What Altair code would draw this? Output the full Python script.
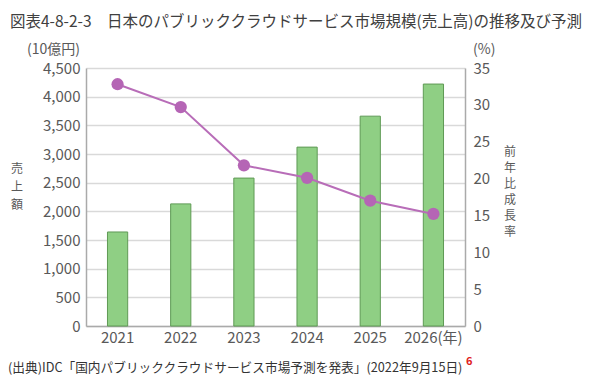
import altair as alt
import pandas as pd

years = ["2021", "2022", "2023", "2024", "2025", "2026"]
sales = [1640, 2130, 2580, 3120, 3660, 4220]
growth = [32.8, 29.7, 21.8, 20.1, 17.0, 15.2]

title_text = "図表4-8-2-3　日本のパブリッククラウドサービス市場規模(売上高)の推移及び予測"
left_unit = "(10億円)"
right_unit = "(%)"
left_title = "売上額"
right_title = "前年比成長率"
source_text = "(出典)IDC「国内パブリッククラウドサービス市場予測を発表」(2022年9月15日)"
note_mark = "6"

FONT = "Noto Sans CJK JP"
GRAY = "#595959"

df = pd.DataFrame({"year": years, "sales": sales, "growth": growth})

x_enc = alt.X("year:N", title=None, sort=years,
              scale=alt.Scale(paddingInner=0.68, paddingOuter=0.34),
              axis=alt.Axis(labelAngle=0, labelFont=FONT, labelFontSize=15, labelColor=GRAY,
                            labelPadding=4, ticks=False, domainColor="#aaaaaa", domainWidth=1.5,
                            labelExpr="datum.value == '2026' ? '2026(年)' : datum.value"))

bars = alt.Chart(df).mark_bar(color="#8fcf84", stroke="#5f9a55", strokeWidth=1).encode(
    x=x_enc,
    y=alt.Y("sales:Q", title=None,
            scale=alt.Scale(domain=[0, 4500]),
            axis=alt.Axis(values=list(range(0, 4501, 500)), format=",d", labelFont=FONT,
                          labelFontSize=15, labelColor=GRAY, ticks=False, labelPadding=6,
                          gridColor="#d9d9d9", gridWidth=1.5, domainColor="#aaaaaa",
                          domainWidth=1.5)),
)

line = alt.Chart(df).mark_line(color="#b86db8", strokeWidth=2,
                               point=alt.OverlayMarkDef(color="#b565b5", size=150, filled=True, opacity=1)).encode(
    x=alt.X("year:N", sort=years),
    y=alt.Y("growth:Q", title=None,
            scale=alt.Scale(domain=[0, 35]),
            axis=alt.Axis(orient="right", values=list(range(0, 36, 5)), labelFont=FONT,
                          labelFontSize=15, labelColor=GRAY, ticks=False, labelPadding=8,
                          grid=False, domainColor="#aaaaaa", domainWidth=1.5)),
)

def txt(s, x, y, size=14, align="left", color=GRAY, lh=None, baseline="middle", weight="normal"):
    kw = dict(font=FONT, fontSize=size, align=align, baseline=baseline, color=color, fontWeight=weight)
    if lh is not None:
        kw["lineBreak"] = "\n"
        kw["lineHeight"] = lh
    return alt.Chart(pd.DataFrame({"t": [s]})).mark_text(**kw).encode(
        text="t:N", x=alt.value(x), y=alt.value(y))

layers = [
    bars, line,
    txt(title_text, -76, -46, size=15.5, color="#404040"),
    txt(left_unit, -6, -18, size=14, align="right"),
    txt(right_unit, 387, -18, size=14),
    txt("\n".join(left_title), -69, 101, size=12, align="center", lh=18),
    txt("\n".join(right_title), 424, 84, size=12, align="center", lh=16),
    txt(source_text, -78, 300, size=12.7, color="#333333"),
    txt(note_mark, 380, 294, size=11, color="#e0201b", weight="bold"),
]

chart = alt.layer(*layers).resolve_scale(y="independent").properties(
    width=379, height=258,
    padding={"left": 78, "top": 60, "right": 118, "bottom": 55},
    autosize=alt.AutoSizeParams(type="none"),
).configure_view(stroke=None)

chart.save("out.html", embed_options={"renderer": "svg", "actions": False})
